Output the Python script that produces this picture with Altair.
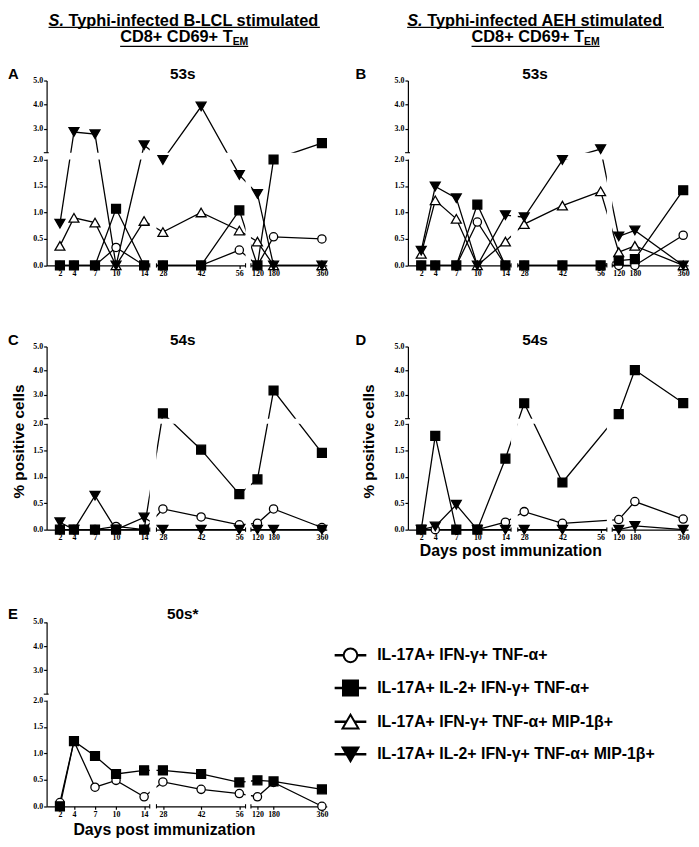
import altair as alt
import pandas as pd

# ---------------- data ----------------
days = [2, 4, 7, 10, 14, 28, 42, 56, 120, 180, 360]
series = ["IL-17A+ IFN-γ+ TNF-α+",
          "IL-17A+ IL-2+ IFN-γ+ TNF-α+",
          "IL-17A+ IFN-γ+ TNF-α+ MIP-1β+",
          "IL-17A+ IL-2+ IFN-γ+ TNF-α+ MIP-1β+"]

# Panel A: B-LCL, 53s
a_circ = [0, 0, 0, 0.34, 0, 0, 0, 0.29, 0, 0.54, 0.50]
a_sq   = [0, 0, 0, 1.07, 0, 0, 0, 1.04, 0, 2.0, 2.4]
a_triu = [0.37, 0.90, 0.81, 0, 0.84, 0.63, 1.0, 0.66, 0.45, 0, 0]
a_trid = [0.79, 2.86, 2.77, 0, 2.31, 1.99, 3.92, 1.71, 1.35, 0, 0]
# Panel B: AEH, 53s
b_circ = [0, 0, 0, 0.82, 0, 0, 0, 0, 0, 0, 0.57]
b_sq   = [0, 0, 0, 1.15, 0, 0, 0, 0, 0.09, 0.12, 1.42]
b_triu = [0.22, 1.23, 0.88, 0, 0.45, 0.78, 1.13, 1.40, 0.25, 0.37, 0]
b_trid = [0.28, 1.49, 1.27, 0, 0.95, 0.91, 1.99, 2.15, 0.55, 0.66, 0]
# Panel C: B-LCL, 54s
c_circ = [0, 0, 0, 0.06, 0, 0.39, 0.24, 0.09, 0.12, 0.39, 0.04]
c_sq   = [0, 0, 0, 0, 0, 2.22, 1.51, 0.67, 0.95, 3.17, 1.45]
c_trid = [0.14, 0, 0.64, 0, 0.23, 0, 0, 0, 0, 0, 0]
# Panel D: AEH, 54s (no sample at day 56)
d_circ = [0, 0, 0, 0, 0.14, 0.34, 0.12, None, 0.19, 0.53, 0.20]
d_sq   = [0, 1.77, 0, 0, 1.34, 2.64, 0.89, None, 2.19, 4.02, 2.65]
d_trid = [0, 0.06, 0.47, 0, 0, 0, 0, None, 0, 0.07, 0]
# Panel E: 50s*
e_circ = [0.07, 1.23, 0.36, 0.49, 0.18, 0.46, 0.32, 0.24, 0.18, 0.45, 0.0]
e_sq   = [0, 1.23, 0.95, 0.61, 0.68, 0.68, 0.61, 0.45, 0.49, 0.47, 0.32]

y_ticks = [0, 0.5, 1.0, 1.5, 2.0, 3.0, 4.0, 5.0]

# ---------------- layout ----------------
PW = 283
dummy = pd.DataFrame({"k": [0]})

styles = {
    0: dict(shape="circle", fill="white", size=70),
    1: dict(shape="square", fill="black", size=81),
    2: dict(shape="triangle-up", fill="white", size=100),
    3: dict(shape="triangle-down", fill="black", size=100),
}
draw_order = [2, 0, 1, 3]


def txt(o, s, x, y, size, weight="bold", style="normal", align="left",
        baseline="alphabetic", angle=0, font="Liberation Sans"):
    return alt.Chart(dummy).mark_text(
        text=s, fontSize=size, fontWeight=weight, fontStyle=style, align=align,
        baseline=baseline, angle=angle, font=font, color="black").encode(
        x=alt.value(x - o[0]), y=alt.value(y - o[1]))


def hline(o, x1, x2, y, w=1.5):
    return alt.Chart(dummy).mark_rule(color="black", strokeWidth=w).encode(
        x=alt.value(x1 - o[0]), x2=alt.value(x2 - o[0]), y=alt.value(y - o[1]))


def panel(vals, Hc, deco, inset=0.0):
    xs = alt.Scale(type="linear", domain=[0.1, 14, 28, 56, 120, 378],
                   range=[0, 98.5, 117.5, 194.7, 213, PW], nice=False, zero=False)
    ys = alt.Scale(type="linear", domain=[0, 2, 2.0001, 5],
                   range=[Hc, Hc - 107, inset + 72.9, inset], nice=False, zero=False)
    xax = alt.Axis(values=days, format="d", title=None, labelOverlap=False,
                   labelFlush=False, labelAngle=0)
    yax = alt.Axis(values=y_ticks, format=".1f", title=None, labelOverlap=False,
                   labelFlush=False)
    rows = []
    for si, v in vals.items():
        for d, y in zip(days, v):
            if y is not None:
                rows.append({"day": d, "val": y, "s": si})
    df = pd.DataFrame(rows)
    X = alt.X("day:Q", scale=xs, axis=xax)
    Y = alt.Y("val:Q", scale=ys, axis=yax)
    layers = [
        alt.Chart(df).mark_line(color="black", strokeWidth=1.3).encode(
            x=X, y=Y, detail="s:N", order="day:Q")
    ]
    # axis breaks (white gaps) with small end ticks
    for x0, x1 in [(18.2, 23.2), (78, 97)]:
        layers.append(alt.Chart(dummy).mark_rect(color="white").encode(
            x=alt.XDatum(x0, scale=xs, axis=xax), x2=alt.X2Datum(x1),
            y=alt.YDatum(5.05, scale=ys, axis=yax), y2=alt.Y2Datum(-0.035)))
        for xe in (x0, x1):
            layers.append(alt.Chart(dummy).mark_rule(color="black", strokeWidth=1.1).encode(
                x=alt.XDatum(xe, scale=xs, axis=xax),
                y=alt.YDatum(-0.04, scale=ys, axis=yax), y2=alt.Y2Datum(0.04)))
    layers.append(alt.Chart(dummy).mark_rect(color="white").encode(
        x=alt.XDatum(-0.35, scale=xs, axis=xax), x2=alt.X2Datum(378),
        y=alt.YDatum(2.0, scale=ys, axis=yax), y2=alt.Y2Datum(2.0001)))
    layers.append(alt.Chart(dummy).mark_rule(color="black", strokeWidth=1.1).encode(
        x=alt.XDatum(-0.3, scale=xs, axis=xax), x2=alt.X2Datum(0.4),
        y=alt.YDatum(2.0001, scale=ys, axis=yax)))
    for si in draw_order:
        if si not in vals:
            continue
        st = styles[si]
        layers.append(alt.Chart(df).transform_filter(alt.datum.s == si).mark_point(
            shape=st["shape"], filled=True, fill=st["fill"], stroke="black",
            strokeWidth=1.3, size=st["size"], opacity=1).encode(x=X, y=Y))
    return alt.layer(*layers, *deco).properties(width=PW, height=Hc)


# cell origins in page pixels (left of y axis, top of cell)
HA, HC = 186.8, 185.0
SPC, SPR = 82, 81.7
oA = (47, 76.5)
oB = (oA[0] + PW + SPC, oA[1])
oC = (oA[0], oA[1] + HA + SPR)
oD = (oB[0], oC[1])
oE = (oA[0], oC[1] + HC + SPR)
E_top, E_bot = 623.3, 809.5
HE = E_bot - oE[1]
E_inset = E_top - oE[1]

decoA, decoB, decoC, decoD, decoE = [], [], [], [], []

# invisible anchor fixing the top-left corner of the drawing
decoA.append(alt.Chart(dummy).mark_rect(opacity=0).encode(
    x=alt.value(8 - oA[0]), x2=alt.value(8.5 - oA[0]),
    y=alt.value(8 - oA[1]), y2=alt.value(8.5 - oA[1])))

# column headers
fs1, fsub = 16.5, 10.5
for o, dl, cx, rest, w1 in [(oA, decoA, 186, "Typhi-infected B-LCL stimulated", 16.613),
                            (oB, decoB, 541, "Typhi-infected AEH stimulated", 15.725)]:
    x0 = cx - w1 * fs1 / 2
    dl.append(txt(o, "S.", x0, 21, fs1, style="italic"))
    dl.append(txt(o, rest, x0 + 1.223 * fs1, 21, fs1))
    dl.append(hline(o, x0, x0 + w1 * fs1, 22.8))
    w2 = 6.891 * fs1 + 1.5 * fsub
    x2 = cx - w2 / 2
    dl.append(txt(o, "CD8+ CD69+ T", x2, 38, fs1))
    dl.append(txt(o, "EM", x2 + 6.891 * fs1, 41, fsub))
    dl.append(hline(o, x2, x2 + w2, 42))

# panel titles and letters
for o, dl, letter, lx, title, cx, yb in [(oA, decoA, "A", 8, "53s", 184.5, 75),
                                         (oB, decoB, "B", 359, "53s", 540.5, 75),
                                         (oC, decoC, "C", 8, "54s", 184.5, 343.5),
                                         (oD, decoD, "D", 359, "54s", 540.5, 343.5),
                                         (oE, decoE, "E", 8, "50s*", 184.5, 620)]:
    dl.append(txt(o, letter, lx, yb, 15))
    dl.append(txt(o, title, cx, yb, 15.5, align="center"))

# axis titles
decoC.append(txt(oC, "% positive cells", 19.5, 441, 15.5, align="center", baseline="middle", angle=270))
decoD.append(txt(oD, "% positive cells", 372.5, 441, 15.5, align="center", baseline="middle", angle=270))
decoD.append(txt(oD, "Days post immunization", 516, 551.5, 16, align="center", baseline="middle"))
decoE.append(txt(oE, "Days post immunization", 166, 833, 16, align="center", baseline="middle"))

# legend
leg_y = [657, 690, 724, 757]
leg_size = {0: 190, 1: 230, 2: 260, 3: 260}
for si, ly in enumerate(leg_y):
    st = styles[si]
    decoE.append(hline(oE, 338, 370, ly, 2.5))
    decoE.append(alt.Chart(dummy).mark_point(
        shape=st["shape"], filled=True, fill=st["fill"], stroke="black",
        strokeWidth=2, size=leg_size[si], opacity=1).encode(
        x=alt.value(354 - oE[0]), y=alt.value(ly - oE[1])))
    decoE.append(txt(oE, series[si], 381, ly, 16, baseline="middle"))

pA = panel({0: a_circ, 1: a_sq, 2: a_triu, 3: a_trid}, HA, decoA)
pB = panel({0: b_circ, 1: b_sq, 2: b_triu, 3: b_trid}, HA, decoB)
pC = panel({0: c_circ, 1: c_sq, 3: c_trid}, HC, decoC)
pD = panel({0: d_circ, 1: d_sq, 3: d_trid}, HC, decoD)
pE = panel({0: e_circ, 1: e_sq}, HE, decoE, inset=E_inset)

chart = alt.concat(pA, pB, pC, pD, pE, columns=2,
                   spacing={"row": SPR, "column": SPC},
                   bounds="flush", align="each").properties(
    padding=0).configure_axis(
    labelFont="Liberation Serif", labelFontWeight="bold", labelFontSize=8,
    labelColor="black", tickColor="black", domainColor="black", tickSize=3,
    domainWidth=1.2, tickWidth=1.2, labelPadding=1, grid=False).configure_view(
    stroke=None)

chart.save("out.html", embed_options={"renderer": "svg", "actions": False})
